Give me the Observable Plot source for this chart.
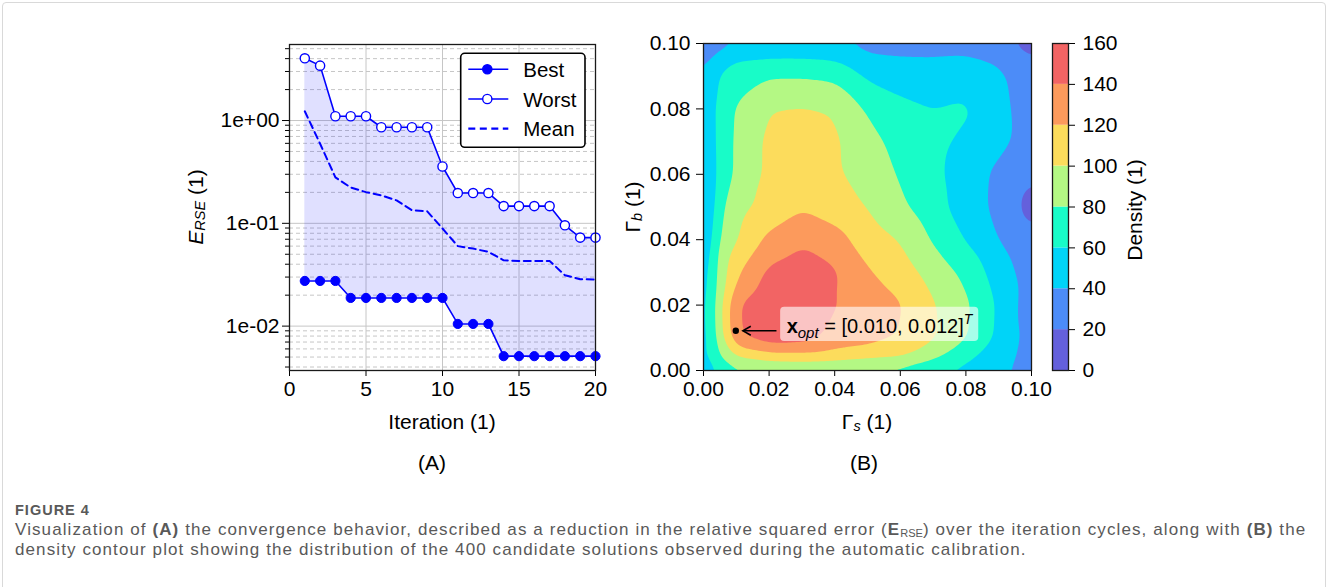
<!DOCTYPE html>
<html>
<head>
<meta charset="utf-8">
<script src="https://cdn.jsdelivr.net/npm/d3@7"></script>
<script src="https://cdn.jsdelivr.net/npm/@observablehq/plot@0.6"></script>
<style>
  html,body{margin:0;padding:0;background:#fff;}
  #fig{position:relative;width:1328px;height:587px;overflow:hidden;background:#fff;}
  #box{position:absolute;left:2px;top:2px;width:1322px;height:600px;border:1px solid #d9d9d9;border-radius:4px;}
  .panel{position:absolute;top:30px;}
  .panel svg{overflow:visible;}
  .plabel{position:absolute;font-family:"Liberation Sans",Arial,sans-serif;font-size:21px;color:#000;transform:translate(-50%,-50%);white-space:nowrap;}
  #caption{position:absolute;left:15px;top:500px;font-family:"Liberation Sans",Arial,sans-serif;color:#595959;}
  #figno{font-size:14.5px;font-weight:bold;line-height:20px;height:20px;letter-spacing:1px;}
  .capline{font-size:17px;line-height:20px;height:20px;letter-spacing:1.1px;white-space:nowrap;}
  .capline sub{font-size:65%;vertical-align:-2px;line-height:0;letter-spacing:0;}
</style>
</head>
<body>
<div id="fig">
  <div id="box"></div>
  <div id="panelA" class="panel" style="left:180px"></div>
  <div id="panelB" class="panel" style="left:620px"></div>
  <div id="panelC" class="panel" style="left:1040px"></div>
  <div class="plabel" style="left:432px;top:463px">(A)</div>
  <div class="plabel" style="left:864px;top:463px">(B)</div>
  <div id="caption">
    <div id="figno">FIGURE 4</div>
    <div class="capline">Visualization of <b>(A)</b> the convergence behavior, described as a reduction in the relative squared error (<b>E</b><sub>RSE</sub>) over the iteration cycles, along with <b>(B)</b> the</div>
    <div class="capline">density contour plot showing the distribution of the 400 candidate solutions observed during the automatic calibration.</div>
  </div>
</div>
<script>
// ---------------- Panel A data ----------------
const iterations = [1,2,3,4,5,6,7,8,9,10,11,12,13,14,15,16,17,18,19,20];
const bestErr  = [0.0275,0.0275,0.0275,0.0188,0.0188,0.0188,0.0188,0.0188,0.0188,0.0188,0.0105,0.0105,0.0105,0.0051,0.0051,0.0051,0.0051,0.0051,0.0051,0.0051];
const worstErr = [4.03,3.42,1.10,1.10,1.10,0.86,0.86,0.86,0.86,0.357,0.197,0.197,0.197,0.147,0.147,0.147,0.147,0.0957,0.0726,0.0726];
const meanErr  = [1.23,0.594,0.28,0.223,0.201,0.187,0.167,0.134,0.131,0.089,0.060,0.0568,0.0527,0.0437,0.043,0.043,0.043,0.0313,0.0286,0.0284];
const iterTicks = [0,5,10,15,20];
const errMajorTicks = [0.01,0.1,1];
const errMajorLabels = ["1e-02","1e-01","1e+00"];
const errMinorTicks = [0.004,0.005,0.006,0.007,0.008,0.009,0.02,0.03,0.04,0.05,0.06,0.07,0.08,0.09,0.2,0.3,0.4,0.5,0.6,0.7,0.8,0.9,2,3,4,5];
const seriesNames = ["Best","Worst","Mean"];

// ---------------- Panel B data ----------------
const gammaS = [0,0.004,0.01,0.02,0.03,0.04,0.05,0.06,0.07,0.08,0.09,0.10];
const gammaB = [0,0.004,0.01,0.02,0.03,0.04,0.05,0.06,0.07,0.08,0.09,0.096,0.10];
// density[j][i] : value read at (gammaS[i], gammaB[j])
const density = [
  [40, 60, 72, 74, 75, 74, 70, 68, 60, 55, 45, 30],
  [50, 78,100,110,112,110,106,103, 86, 64, 50, 32],
  [45, 82,138,153,150,133,128,119,103, 82, 56, 32],
  [45, 85,140,155,158,141,132,122,102, 84, 57, 28],
  [42, 82,117,145,152,143,122,110, 92, 75, 50, 30],
  [32, 78, 99,125,137,128,110, 99, 78, 59, 40, 25],
  [25, 72, 93,106,118,110, 99, 84, 68, 50, 35, 12],
  [28, 66, 83,105,110,103, 92, 78, 65, 50, 36, 22],
  [32, 66, 83,105,106,103, 88, 72, 66, 55, 45, 32],
  [35, 66, 82,100,102, 99, 77, 65, 60, 63, 46, 30],
  [38, 60, 72, 79, 79, 76, 57, 52, 50, 52, 44, 28],
  [30, 45, 57, 59, 59, 56, 42, 40, 40, 42, 36, 20],
  [22, 30, 37, 38, 38, 39, 33, 32, 31, 29, 26, 10]
];
const densityLevels = [0,20,40,60,80,100,120,140,160];
const levelColors = ["#6460dc","#4c8cf8","#00d4f8","#18fcc8","#b4f884","#fcdc5c","#fc9a5c","#f26464"];
const gammaTicks = [0,0.02,0.04,0.06,0.08,0.10];
const densityTicks = [0,20,40,60,80,100,120,140,160];
const xOpt = [{gs:0.010, gb:0.012}];
const annotation = [{gs:0.0255, gb:0.0114, tail:0.0224, value:"[0.010, 0.012]"}];

// ---------------- common ----------------
const FONT = "'Liberation Sans', Arial, sans-serif";
const FS = 21;
const blue = "#0000ff";
const baseStyle = {fontFamily:FONT, fontSize:FS+"px", color:"#000", background:"transparent", overflow:"visible"};

// ---------------- Panel A ----------------
const rowsA = iterations.map((it,i)=>({it, best:bestErr[i], worst:worstErr[i], mean:meanErr[i]}));
const plotA = Plot.plot({
  width:430, height:410, marginLeft:109, marginRight:15, marginTop:14, marginBottom:70,
  style:baseStyle,
  x:{domain:[0,20]},
  y:{type:"log", domain:[0.0037,5.49]},
  marks:[
    Plot.gridY(errMinorTicks,{stroke:"#c6c6c6",strokeOpacity:1,strokeDasharray:"4,3",strokeWidth:1}),
    Plot.gridY(errMajorTicks,{stroke:"#c6c6c6",strokeOpacity:1,strokeWidth:1}),
    Plot.gridX(iterTicks,{stroke:"#c6c6c6",strokeOpacity:1,strokeWidth:1}),
    Plot.areaY(rowsA,{x:"it",y1:"best",y2:"worst",fill:blue,fillOpacity:0.12}),
    Plot.line(rowsA,{x:"it",y:"mean",stroke:blue,strokeWidth:2,strokeDasharray:"7,4.5"}),
    Plot.line(rowsA,{x:"it",y:"worst",stroke:blue,strokeWidth:1.6}),
    Plot.dot(rowsA,{x:"it",y:"worst",r:4.6,fill:"white",stroke:blue,strokeWidth:1.4}),
    Plot.line(rowsA,{x:"it",y:"best",stroke:blue,strokeWidth:1.6}),
    Plot.dot(rowsA,{x:"it",y:"best",r:4.6,fill:blue,stroke:blue,strokeWidth:1}),
    Plot.axisX(iterTicks,{tickSize:6,tickPadding:5,label:null,fontSize:FS,tickFormat:d=>String(d)}),
    Plot.axisY(errMajorTicks,{tickSize:7,tickPadding:3,label:null,fontSize:FS,tickFormat:d=>errMajorLabels[errMajorTicks.indexOf(d)]}),
    Plot.axisY(errMinorTicks,{tickSize:4,label:null,tickFormat:()=>""}),
    Plot.frame({stroke:"#1a1a1a",strokeWidth:1.3})
  ]
});
document.getElementById("panelA").appendChild(plotA);
{
  const svg = d3.select(plotA);
  const yl = svg.append("text").attr("transform","translate(15,177) rotate(-90)")
    .attr("text-anchor","middle").attr("dominant-baseline","central")
    .attr("font-family",FONT).attr("font-size",FS).attr("fill","#000");
  yl.append("tspan").attr("font-style","italic").text("E");
  yl.append("tspan").attr("font-style","italic").attr("font-size",14.5).attr("dy",5).text("RSE");
  yl.append("tspan").attr("dy",-5).text(" (1)");
  svg.append("text").attr("x",262).attr("y",391).attr("text-anchor","middle").attr("dominant-baseline","central")
    .attr("font-family",FONT).attr("font-size",FS).attr("fill","#000").text("Iteration (1)");
  // legend
  const fr = 415, ft = 14;
  const lg = svg.append("g").attr("font-family",FONT).attr("font-size",20.5).attr("text-anchor","start");
  lg.append("rect").attr("x",fr-134.3).attr("y",ft+9.3).attr("width",124.3).attr("height",94).attr("rx",4)
    .attr("fill","white").attr("stroke","#000").attr("stroke-width",1.6);
  seriesNames.forEach((name,i)=>{
    const y = ft+25.3+i*29.7;
    const l = lg.append("line").attr("x1",fr-126.7).attr("x2",fr-86.7).attr("y1",y).attr("y2",y)
      .attr("stroke",blue).attr("stroke-width",name==="Mean"?2.2:1.6);
    if(name==="Mean") l.attr("stroke-dasharray","7,4.5");
    if(name!=="Mean") lg.append("circle").attr("cx",fr-107.7).attr("cy",y).attr("r",4.6)
      .attr("fill",name==="Best"?blue:"white").attr("stroke",blue).attr("stroke-width",1.4);
    lg.append("text").attr("x",fr-71.7).attr("y",y).attr("text-anchor","start").attr("dominant-baseline","central").attr("fill","#000").text(name);
  });
}

// ---------------- Panel B ----------------
const densityPts = [];
gammaB.forEach((gb,j)=>gammaS.forEach((gs,i)=>densityPts.push({gs, gb, v:density[j][i]})));
const colorOpts = {type:"threshold", domain:densityLevels.slice(1,-1), range:levelColors};
const plotB = Plot.plot({
  width:421, height:410, marginLeft:83, marginRight:10, marginTop:13, marginBottom:70,
  style:baseStyle,
  x:{domain:[0,0.1]},
  y:{domain:[0,0.1]},
  color:colorOpts,
  marks:[
    Plot.contour(densityPts,{x:"gs",y:"gb",fill:"v",thresholds:densityLevels.slice(0,-1),
      interpolate:"barycentric",blur:3,x1:0,x2:0.1,y1:0,y2:0.1}),
    Plot.axisX(gammaTicks,{tickSize:6,tickPadding:5,label:null,fontSize:FS,tickFormat:d3.format(".2f")}),
    Plot.axisY(gammaTicks,{tickSize:7,tickPadding:6,label:null,fontSize:FS,tickFormat:d3.format(".2f")}),
    Plot.frame({stroke:"#1a1a1a",strokeWidth:1.3})
  ]
});
document.getElementById("panelB").appendChild(plotB);
{
  const svg = d3.select(plotB);
  const sx = plotB.scale("x"), sy = plotB.scale("y");
  const a = annotation[0];
  const tx = sx.apply(a.gs), ty = sy.apply(a.gb);
  const box = svg.append("rect").attr("fill","white").attr("fill-opacity",0.62).attr("rx",4);
  const t = svg.append("text").attr("x",tx).attr("y",ty).attr("text-anchor","start")
    .attr("font-family",FONT).attr("font-size",20).attr("fill","#000");
  t.append("tspan").attr("font-weight","bold").text("x");
  t.append("tspan").attr("font-style","italic").attr("font-size",15).attr("dy",5).text("opt");
  t.append("tspan").attr("dy",-5).text(" = " + a.value);
  t.append("tspan").attr("font-style","italic").attr("font-size",14).attr("dy",-9).text("T");
  const bb = t.node().getBBox();
  box.attr("x",tx-6.5).attr("y",ty-26).attr("width",bb.width+11).attr("height",34.4);
  const p = xOpt[0];
  const px = sx.apply(p.gs), py = sy.apply(p.gb);
  const tailX = sx.apply(a.tail);
  svg.append("line").attr("x1",tailX).attr("y1",py).attr("x2",px+7).attr("y2",py).attr("stroke","#000").attr("stroke-width",1.5);
  svg.append("path").attr("d",`M${px+15},${py-4.5}L${px+7},${py}L${px+15},${py+4.5}`).attr("fill","none").attr("stroke","#000").attr("stroke-width",1.5);
  svg.append("circle").attr("cx",px).attr("cy",py).attr("r",3.2).attr("fill","#000");
  const xl = svg.append("text").attr("x",247).attr("y",391).attr("text-anchor","middle").attr("dominant-baseline","central")
    .attr("font-family",FONT).attr("font-size",FS).attr("fill","#000");
  xl.append("tspan").text("Γ");
  xl.append("tspan").attr("font-style","italic").attr("font-size",14.5).attr("dy",5).text("s");
  xl.append("tspan").attr("dy",-5).text(" (1)");
  const yl = svg.append("text").attr("transform","translate(12,177) rotate(-90)").attr("text-anchor","middle").attr("dominant-baseline","central")
    .attr("font-family",FONT).attr("font-size",FS).attr("fill","#000");
  yl.append("tspan").text("Γ");
  yl.append("tspan").attr("font-style","italic").attr("font-size",14.5).attr("dy",5).text("b");
  yl.append("tspan").attr("dy",-5).text(" (1)");
}

// ---------------- Colorbar ----------------
const bands = levelColors.map((c,i)=>({lo:densityLevels[i], hi:densityLevels[i+1], x1:0, x2:1}));
const plotC = Plot.plot({
  width:120, height:410, marginLeft:12, marginRight:92, marginTop:13, marginBottom:70,
  style:baseStyle,
  x:{domain:[0,1], axis:null},
  y:{domain:[0,160]},
  color:colorOpts,
  marks:[
    Plot.rect(bands,{x1:"x1",x2:"x2",y1:"lo",y2:"hi",fill:"lo"}),
    Plot.axisY(densityTicks,{anchor:"right",tickSize:6,tickPadding:8,label:null,fontSize:FS}),
    Plot.frame({stroke:"#1a1a1a",strokeWidth:1.3})
  ]
});
document.getElementById("panelC").appendChild(plotC);
d3.select(plotC).append("text").attr("transform","translate(94,180) rotate(-90)").attr("text-anchor","middle")
  .attr("dominant-baseline","central").attr("font-family",FONT).attr("font-size",FS).attr("fill","#000").text("Density (1)");
</script>
</body>
</html>
